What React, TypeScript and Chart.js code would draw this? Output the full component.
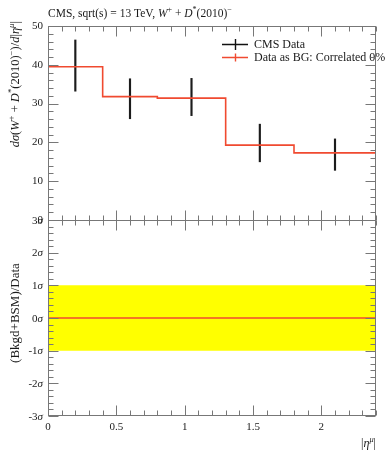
import React, { useEffect, useRef } from 'react';
import { Chart, registerables } from 'chart.js';
Chart.register(...registerables);

// ---- data ----
const binEdges = [0, 0.4, 0.8, 1.3, 1.8, 2.4];
const binCenters = [0.2, 0.6, 1.05, 1.55, 2.1];
const dataValues = [39.5, 31.8, 31.4, 19.3, 17.3];
const errorHigh = [46.4, 36.4, 36.5, 24.7, 20.9];
const errorLow = [33.2, 26.1, 26.9, 15.0, 12.8];
const ratioValues = [0, 0, 0, 0, 0];
const bandUpper = 1;
const bandLower = -1;
const yTopTicks = [0, 10, 20, 30, 40, 50];
const yTopLabels = ['0', '10', '20', '30', '40', '50'];
const yRatioTicks = [-3, -2, -1, 0, 1, 2, 3];
const yRatioLabels = ['-3', '-2', '-1', '0', '1', '2', '3'];
const xTicks = [0, 0.5, 1, 1.5, 2];
const xTickLabels = ['0', '0.5', '1', '1.5', '2'];
const legendLabels = ['CMS Data', 'Data as BG: Correlated 0%'];

const RED = '#f04a30';
const AXIS = '#777777';
const TEXT = '#1a1a1a';
const FONT = '"Liberation Serif"';

type Seg = { t: string; i?: boolean; sup?: boolean };

function setFont(ctx: CanvasRenderingContext2D, s: Seg, size: number) {
  const fs = s.sup ? size * 0.7 : size;
  ctx.font = `${s.i ? 'italic ' : ''}${fs}px ${FONT}`;
}
function richWidth(ctx: CanvasRenderingContext2D, segs: Seg[], size: number) {
  let w = 0;
  for (const s of segs) {
    setFont(ctx, s, size);
    w += ctx.measureText(s.t).width;
  }
  return w;
}
function drawRich(ctx: CanvasRenderingContext2D, segs: Seg[], x: number, y: number, size: number) {
  let cx = x;
  ctx.textBaseline = 'alphabetic';
  ctx.textAlign = 'left';
  for (const s of segs) {
    setFont(ctx, s, size);
    ctx.fillText(s.t, cx, s.sup ? y - size * 0.4 : y);
    cx += ctx.measureText(s.t).width;
  }
}

const titleSegs: Seg[] = [
  { t: 'CMS, sqrt(s) = 13 TeV, ' }, { t: 'W', i: true }, { t: '+', sup: true },
  { t: ' + ' }, { t: 'D', i: true }, { t: '*', sup: true }, { t: '(2010)' }, { t: '\u2212', sup: true },
];
const yTopTitle: Seg[] = [
  { t: 'd\u03c3', i: true }, { t: '(' }, { t: 'W', i: true }, { t: '+', sup: true }, { t: ' + ' },
  { t: 'D', i: true }, { t: '*', sup: true }, { t: '(2010)' }, { t: '\u2212', sup: true }, { t: ')/' },
  { t: 'd', i: true }, { t: '|' }, { t: '\u03b7', i: true }, { t: '\u03bc', i: true, sup: true }, { t: '|' },
];
const yRatioTitle: Seg[] = [{ t: '(Bkgd+BSM)/Data' }];
const xTitle: Seg[] = [{ t: '|' }, { t: '\u03b7', i: true }, { t: '\u03bc', i: true, sup: true }, { t: '|' }];

const decor = {
  id: 'decor',
  afterDraw(chart: any) {
    const ctx: CanvasRenderingContext2D = chart.ctx;
    const xs = chart.scales.x;
    const yt = chart.scales.y;
    const yr = chart.scales.y2;
    const L = Math.round(chart.chartArea.left) + 0.5;
    const R = Math.round(chart.chartArea.right) - 0.5;
    const T = Math.round(yt.top) + 0.5;
    const M = Math.round(yt.bottom) + 0.5;
    const B = Math.round(yr.bottom) - 0.5;
    ctx.save();
    ctx.fillStyle = TEXT;

    // title
    drawRich(ctx, titleSegs, 48, 17, 11.5);

    // y tick labels top
    yTopTicks.forEach((v, i) => {
      ctx.font = `11px ${FONT}`;
      ctx.textAlign = 'right';
      ctx.textBaseline = 'middle';
      ctx.fillText(yTopLabels[i], 43, yt.getPixelForValue(v));
    });
    // ratio tick labels
    yRatioTicks.forEach((v, i) => {
      const segs: Seg[] = [{ t: yRatioLabels[i] }, { t: '\u03c3', i: true }];
      const w = richWidth(ctx, segs, 11);
      drawRich(ctx, segs, 43 - w, yr.getPixelForValue(v) + 3.5, 11);
    });
    // x tick labels
    xTicks.forEach((v, i) => {
      ctx.font = `11px ${FONT}`;
      ctx.textAlign = 'center';
      ctx.textBaseline = 'middle';
      ctx.fillText(xTickLabels[i], xs.getPixelForValue(v), 427);
    });

    // axis titles
    ctx.save();
    ctx.translate(19, 21);
    ctx.rotate(-Math.PI / 2);
    drawRich(ctx, yTopTitle, -richWidth(ctx, yTopTitle, 12.5), 0, 12.5);
    ctx.restore();
    ctx.save();
    ctx.translate(19, 313);
    ctx.rotate(-Math.PI / 2);
    drawRich(ctx, yRatioTitle, -richWidth(ctx, yRatioTitle, 13) / 2, 0, 13);
    ctx.restore();
    drawRich(ctx, xTitle, 376 - richWidth(ctx, xTitle, 12), 447, 12);

    // legend
    const legY = [44.5, 57.5];
    const legC = ['#111111', RED];
    legY.forEach((y, i) => {
      ctx.strokeStyle = legC[i];
      ctx.lineWidth = 1.4;
      ctx.beginPath();
      ctx.moveTo(222, y);
      ctx.lineTo(248, y);
      ctx.moveTo(235.5, y - (i === 0 ? 5.5 : 4));
      ctx.lineTo(235.5, y + (i === 0 ? 5.5 : 4));
      ctx.stroke();
      ctx.fillStyle = TEXT;
      ctx.font = `12px ${FONT}`;
      ctx.textAlign = 'left';
      ctx.textBaseline = 'middle';
      ctx.fillText(legendLabels[i], 254, y);
    });

    // frames
    ctx.strokeStyle = AXIS;
    ctx.lineWidth = 1;
    ctx.strokeRect(L, T, R - L, M - T);
    ctx.strokeRect(L, M, R - L, B - M);

    const line = (x1: number, y1: number, x2: number, y2: number) => {
      ctx.moveTo(x1, y1);
      ctx.lineTo(x2, y2);
    };
    ctx.beginPath();
    // top panel y ticks (every 2, major every 10)
    for (let k = 0; k <= 25; k++) {
      const v = k * 2;
      const y = Math.round(yt.getPixelForValue(v)) + 0.5;
      const len = v % 10 === 0 ? 10 : 5;
      line(L, y, L + len, y);
      line(R, y, R - len, y);
    }
    // ratio y ticks (every 0.2, major every 1)
    for (let k = -15; k <= 15; k++) {
      const v = k / 5;
      const y = Math.round(yr.getPixelForValue(v)) + 0.5;
      const len = k % 5 === 0 ? 10 : 5;
      line(L, y, L + len, y);
      line(R, y, R - len, y);
    }
    // x ticks (every 0.1, major every 0.5)
    for (let k = 0; k <= 24; k++) {
      const v = k / 10;
      const x = Math.round(xs.getPixelForValue(v)) + 0.5;
      const len = k % 5 === 0 ? 10 : 5;
      line(x, T, x, T + len);
      line(x, M, x, M - len);
      line(x, M, x, M + len);
      line(x, B, x, B - len);
    }
    ctx.stroke();
    ctx.restore();
  },
};

export default function App() {
  const ref = useRef<HTMLCanvasElement>(null);
  useEffect(() => {
    const n = dataValues.length;
    const stepPts = binEdges.map((x, i) => ({ x, y: dataValues[Math.min(i, n - 1)] }));
    const ratioPts = binEdges.map((x, i) => ({ x, y: ratioValues[Math.min(i, n - 1)] }));
    const errPts = binCenters.map((x, i) => ({ x, y: [errorLow[i], errorHigh[i]] }));
    const xMin = binEdges[0];
    const xMax = binEdges[binEdges.length - 1];
    const hidden = { display: false };
    const chart = new Chart(ref.current as HTMLCanvasElement, {
      type: 'line',
      data: {
        datasets: [
          {
            type: 'line', label: legendLabels[1], data: stepPts as any, yAxisID: 'y', stepped: true,
            borderColor: RED, borderWidth: 1.6, pointRadius: 0, fill: false, order: 0,
          },
          {
            type: 'bar', label: legendLabels[0], data: errPts as any, yAxisID: 'y',
            backgroundColor: '#1c1c1c', barThickness: 1.5, borderWidth: 0, order: 1,
          } as any,
          {
            type: 'line', data: ratioPts as any, yAxisID: 'y2', stepped: true,
            borderColor: RED, borderWidth: 1.6, pointRadius: 0, fill: false, order: 0,
          },
          {
            type: 'line', data: [{ x: xMin, y: bandUpper }, { x: xMax, y: bandUpper }] as any, yAxisID: 'y2',
            borderColor: 'rgba(0,0,0,0)', borderWidth: 1, pointRadius: 0,
            backgroundColor: '#ffff00', fill: { value: bandLower } as any, order: 5,
          },
        ],
      },
      options: {
        animation: false,
        responsive: false,
        devicePixelRatio: 1,
        events: [],
        layout: { padding: { left: 0, right: 13, top: 26, bottom: 0 } },
        plugins: { legend: { display: false }, tooltip: { enabled: false }, title: { display: false } },
        scales: {
          x: {
            type: 'linear', min: xMin, max: xMax, offset: false,
            grid: hidden, border: hidden, ticks: { display: false },
            afterFit: (s: any) => { s.height = 34; },
          },
          y2: {
            type: 'linear', position: 'left', stack: 'panels', stackWeight: 196, min: -3, max: 3,
            grid: hidden, border: hidden, ticks: { display: false },
            afterFit: (s: any) => { s.width = 48; },
          },
          y: {
            type: 'linear', position: 'left', stack: 'panels', stackWeight: 194, min: 0, max: 50,
            grid: hidden, border: hidden, ticks: { display: false },
            afterFit: (s: any) => { s.width = 48; },
          },
        } as any,
      },
      plugins: [decor],
    });
    return () => chart.destroy();
  }, []);
  return (
    <div style={{ position: 'absolute', left: 0, top: 0, width: 389, height: 450, background: '#fff' }}>
      <canvas ref={ref} width={389} height={450} style={{ display: 'block', width: 389, height: 450 }} />
    </div>
  );
}
